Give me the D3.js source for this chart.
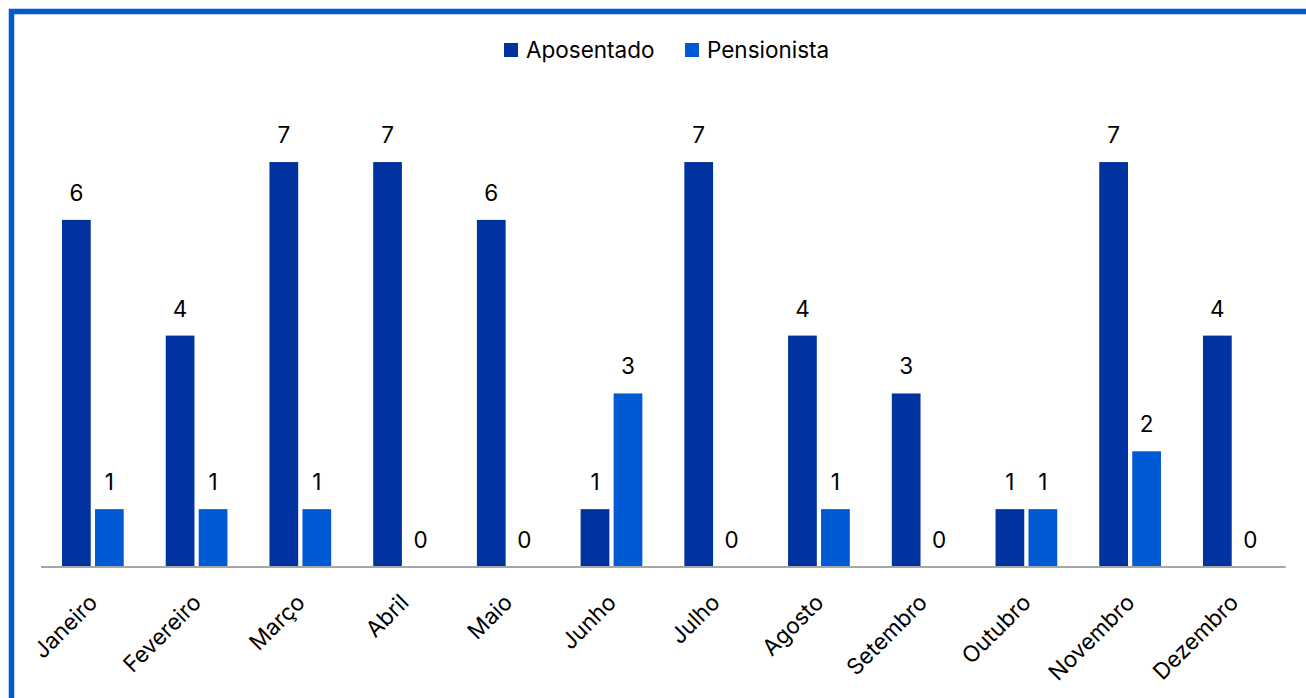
<!DOCTYPE html>
<html><head><meta charset="utf-8">
<script src="https://cdn.jsdelivr.net/npm/d3@7"></script>
<style>html,body{margin:0;padding:0;background:#fff;overflow:hidden}</style>
</head><body>
<svg id="chart" width="1306" height="698"></svg>
<script>
const months = ["Janeiro","Fevereiro","Março","Abril","Maio","Junho","Julho","Agosto","Setembro","Outubro","Novembro","Dezembro"];
const seriesNames = ["Aposentado","Pensionista"];
const aposentado = [6,4,7,7,6,1,7,4,3,1,7,4];
const pensionista = [1,1,1,0,0,3,0,1,0,1,2,0];
const colors = ["#0033A0","#005AD3"];

const font = "Inter, 'Noto Sans', sans-serif";
const fs = 22.5;
const svg = d3.select("#chart");
// frame
svg.append("path").attr("d","M11.5,698 L11.5,11.5 L1306,11.5").attr("fill","none")
  .attr("stroke","#005AD2").attr("stroke-width",5.5);

const left = 41, right = 1285.7, base = 567, unit = 57.85;
const x = d3.scaleBand().domain(months).range([left,right]).paddingInner(0).paddingOuter(0);
const y = d3.scaleLinear().domain([0,8]).range([base, base-8*unit]);
const inner = d3.scaleBand().domain(seriesNames).range([21, x.bandwidth()-21]).paddingInner(8/62);

const data = [aposentado, pensionista];
const g = svg.append("g");
seriesNames.forEach((s,si)=>{
  const vals = data[si];
  g.selectAll(".b"+si).data(months).enter().append("rect")
    .attr("x", m=>x(m)+inner(s)).attr("width", inner.bandwidth())
    .attr("y", (m,i)=>y(vals[i])).attr("height",(m,i)=>base-y(vals[i]))
    .attr("fill", colors[si]);
  g.selectAll(".l"+si).data(months).enter().append("text")
    .attr("x", m=>x(m)+inner(s)+inner.bandwidth()/2)
    .attr("y", (m,i)=>y(vals[i])-19)
    .attr("text-anchor","middle").attr("font-family",font).attr("font-size",fs).attr("fill","#000")
    .text((m,i)=>vals[i]);
});
// axis
const xAxis = d3.axisBottom(x).tickSize(0).tickPadding(0);
const ax = svg.append("g").attr("transform",`translate(0,${base})`).call(xAxis);
ax.select(".domain").attr("stroke","#A6A6A6").attr("stroke-width",2.2).attr("d",`M${left},0H${right}`);
ax.selectAll(".tick text").attr("font-family",font).attr("font-size",fs).attr("fill","#000")
  .attr("text-anchor","end").attr("dy",0).attr("y",0)
  .attr("transform","translate(6,37) rotate(-45)");

// legend
const leg = svg.append("g").attr("font-family",font).attr("font-size",fs);
const legX = [504, 685];
seriesNames.forEach((s,i)=>{
  leg.append("rect").attr("x",legX[i]).attr("y",43).attr("width",14).attr("height",14).attr("fill",colors[i]);
  leg.append("text").attr("x",legX[i]+22).attr("y",58).attr("fill","#000").text(s);
});
</script>
</body></html>
